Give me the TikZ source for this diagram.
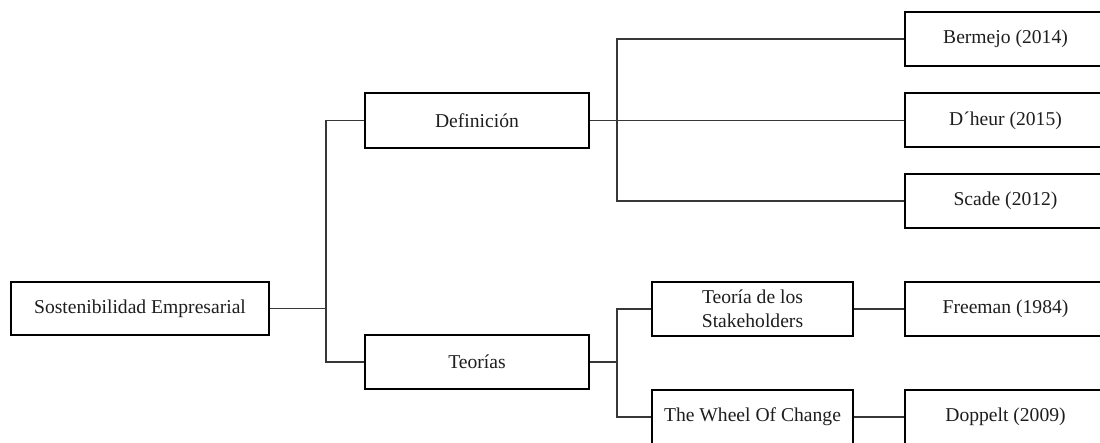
\documentclass[tikz,border=0pt]{standalone}
\usepackage{fontspec}
\setmainfont{Liberation Serif}
\definecolor{linec}{RGB}{55,55,55}
\definecolor{textc}{RGB}{30,30,30}
\begin{document}
\begin{tikzpicture}[x=1pt,y=1pt,
  box/.style={draw=black,line width=2pt,fill=white,rectangle,inner sep=0pt,
    text=textc,font=\fontsize{19.6}{23.5}\selectfont,align=center},
  conn/.style={draw=linec,line width=1.1pt}]
\clip (0,0) rectangle (1100,443);
\fill[white] (0,0) rectangle (1100,443);
% nodes
\node[box,minimum width=258pt,minimum height=53pt] (S) at (140,134.5) {Sostenibilidad Empresarial};
\node[box,minimum width=224pt,minimum height=55pt] (Def) at (477,322.5) {Definición};
\node[box,minimum width=224pt,minimum height=54pt] (Teo) at (477,81) {Teorías};
\node[box,minimum width=201pt,minimum height=54pt] (St) at (752.5,134) {Teoría de los\\Stakeholders};
\node[box,minimum width=201pt,minimum height=54pt] (Wh) at (752.5,26) {The Wheel Of Change};
\node[box,minimum width=201pt,minimum height=54pt] (Be) at (1005.5,404) {Bermejo (2014)};
\node[box,minimum width=201pt,minimum height=54pt] (Dh) at (1005.5,322.5) {D´heur (2015)};
\node[box,minimum width=201pt,minimum height=54pt] (Sc) at (1005.5,242) {Scade (2012)};
\node[box,minimum width=201pt,minimum height=54pt] (Fr) at (1005.5,134) {Freeman (1984)};
\node[box,minimum width=201pt,minimum height=54pt] (Do) at (1005.5,26) {Doppelt (2009)};
% junctions
\coordinate (j1) at (326,134.5);
\coordinate (j2) at (617,322.5);
\coordinate (j3) at (617,81);
% connectors
\draw[conn] (S.east) -- (j1);
\draw[conn] (j1) |- (Def.west);
\draw[conn] (j1) |- (Teo.west);
\draw[conn] (Def.east) -- (Dh.west);
\draw[conn] (j2) |- (Be.west);
\draw[conn] (j2) |- (Sc.west);
\draw[conn] (Teo.east) -- (j3);
\draw[conn] (j3) |- (St.west);
\draw[conn] (j3) |- (Wh.west);
\draw[conn] (St.east) -- (Fr.west);
\draw[conn] (Wh.east) -- (Do.west);
\end{tikzpicture}
\end{document}
